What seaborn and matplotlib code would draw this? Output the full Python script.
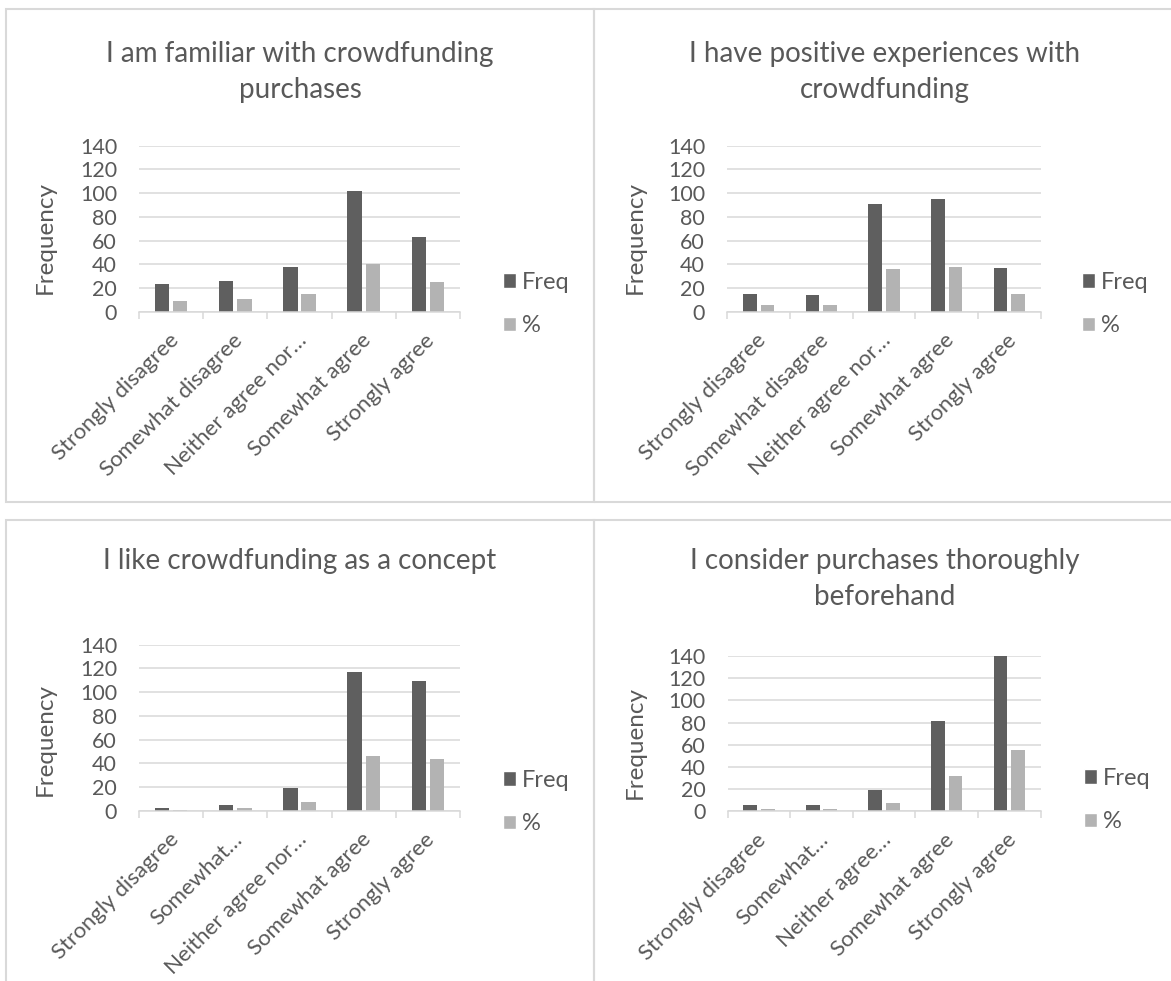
import numpy as np
import pandas as pd
import matplotlib.pyplot as plt
import matplotlib.transforms as mtransforms
import seaborn as sns
from matplotlib.patches import Rectangle, Patch

sns.set_style("white")
plt.rcParams["font.family"] = ["Lato", "DejaVu Sans"]

# -------------------------
# data
# -------------------------
categories = ["Strongly disagree", "Somewhat disagree", "Neither agree nor disagree",
              "Somewhat agree", "Strongly agree"]
series_names = ["Freq", "%"]

titles = [
    "I am familiar with crowdfunding\npurchases",
    "I have positive experiences with\ncrowdfunding",
    "I like crowdfunding as a concept",
    "I consider purchases thoroughly\nbeforehand",
]

ticks_familiar = ["Strongly disagree", "Somewhat disagree", "Neither agree nor…", "Somewhat agree", "Strongly agree"]
ticks_positive = ["Strongly disagree", "Somewhat disagree", "Neither agree nor…", "Somewhat agree", "Strongly agree"]
ticks_concept = ["Strongly disagree", "Somewhat…", "Neither agree nor…", "Somewhat agree", "Strongly agree"]
ticks_consider = ["Strongly disagree", "Somewhat…", "Neither agree…", "Somewhat agree", "Strongly agree"]

freq_familiar = [23, 26, 38, 102, 63]
pct_familiar = [9.1, 10.3, 15.1, 40.5, 25.0]

freq_positive = [15, 14, 91, 95, 37]
pct_positive = [6.0, 5.6, 36.1, 37.7, 14.7]

freq_concept = [2, 5, 19, 117, 109]
pct_concept = [0.8, 2.0, 7.5, 46.4, 43.3]

freq_consider = [6, 6, 19, 81, 140]
pct_consider = [2.4, 2.4, 7.5, 32.1, 55.6]

y_ticks = [0, 20, 40, 60, 80, 100, 120, 140]

# -------------------------
# styling / layout (pixels of a 1171x981 canvas)
# -------------------------
TEXT = "#595959"
GRID = "#d9d9d9"
FREQ_COLOR = "#5f5f5f"
PCT_COLOR = "#b3b3b3"

W, H = 1171, 981
fig = plt.figure(figsize=(W / 100, H / 100), dpi=100)


def fx(px):
    return px / W


def fy(py):
    return 1 - py / H


# frame boxes (left, top, right, bottom)
frames = [(6, 9, 594, 502), (594, 9, 1180, 502), (6, 520, 594, 990), (594, 520, 1180, 990)]
# plot areas (left, top, right, bottom)
areas = [(139.3, 145.7, 459.7, 311.7), (727.3, 145.7, 1040.7, 311.7),
         (139.3, 644.7, 459.7, 810.7), (727.5, 656.0, 1040.7, 811.3)]
title_pos = [(300, 72), (885, 72), (300, 561), (885, 579)]
legend_pos = [(503, 304), (1082, 304), (503, 802), (1084, 800)]
ylabel_y = [0.446, 0.446, 0.426, 0.44]

panel_data = [
    (freq_familiar, pct_familiar, ticks_familiar),
    (freq_positive, pct_positive, ticks_positive),
    (freq_concept, pct_concept, ticks_concept),
    (freq_consider, pct_consider, ticks_consider),
]

# small nudge of the rotated category labels (right / down)
label_shift = mtransforms.ScaledTranslation(4 / 100, -2 / 100, fig.dpi_scale_trans)

for i, (freq, pct, tick_labels) in enumerate(panel_data):
    # frame
    l, t, r, b = frames[i]
    fig.add_artist(Rectangle((fx(l), fy(b)), fx(r) - fx(l), fy(t) - fy(b),
                             transform=fig.transFigure, fill=False,
                             edgecolor=GRID, lw=1.5, clip_on=False))

    l, t, r, b = areas[i]
    ax = fig.add_axes([fx(l), fy(b), fx(r) - fx(l), fy(t) - fy(b)])

    df = pd.DataFrame({
        "answer": categories * 2,
        "series": [series_names[0]] * 5 + [series_names[1]] * 5,
        "value": list(freq) + list(pct),
    })
    sns.barplot(data=df, x="answer", y="value", hue="series", order=categories,
                palette=[FREQ_COLOR, PCT_COLOR], saturation=1, width=0.565, gap=0.22,
                linewidth=0, ax=ax, legend=False)

    ax.set_xlim(-0.5, 4.5)
    ax.set_ylim(0, 140)
    ax.set_yticks(y_ticks)
    ax.yaxis.grid(True, color=GRID, lw=1.1)
    ax.set_axisbelow(True)
    for s in ["left", "top", "right"]:
        ax.spines[s].set_visible(False)
    ax.spines["bottom"].set_color(GRID)
    ax.spines["bottom"].set_linewidth(1.1)

    ax.set_xticks(range(5), labels=tick_labels, rotation=45, ha="right",
                  rotation_mode="anchor", va="center")
    ax.set_xticks(np.arange(-0.5, 5, 1), minor=True)
    ax.tick_params(axis="x", which="major", length=0, pad=17, labelsize=16, labelcolor=TEXT)
    ax.tick_params(axis="x", which="minor", bottom=True, length=5, width=1.1,
                   color=GRID, direction="out")
    ax.tick_params(axis="y", length=0, pad=16, labelsize=15.5, labelcolor=TEXT)
    for lab in ax.get_xticklabels():
        lab.set_transform(lab.get_transform() + label_shift)

    ax.set_xlabel("")
    ax.set_ylabel("Frequency", fontsize=17.5, color=TEXT)
    ax.yaxis.set_label_coords(-0.26, ylabel_y[i])

    tx, ty = title_pos[i]
    fig.text(fx(tx), fy(ty), titles[i], ha="center", va="center", fontsize=20,
             color=TEXT, linespacing=1.5, multialignment="center")

    handles = [Patch(facecolor=FREQ_COLOR, label=series_names[0]),
               Patch(facecolor=PCT_COLOR, label=series_names[1])]
    lx, ly = legend_pos[i]
    fig.legend(handles=handles, loc="center left", bbox_to_anchor=(fx(lx), fy(ly)),
               frameon=False, fontsize=17, labelcolor=TEXT, handlelength=0.55,
               handleheight=0.55, handletextpad=0.25, labelspacing=0.95,
               borderpad=0, borderaxespad=0)

fig.savefig("out.png", dpi=100, facecolor="white")
